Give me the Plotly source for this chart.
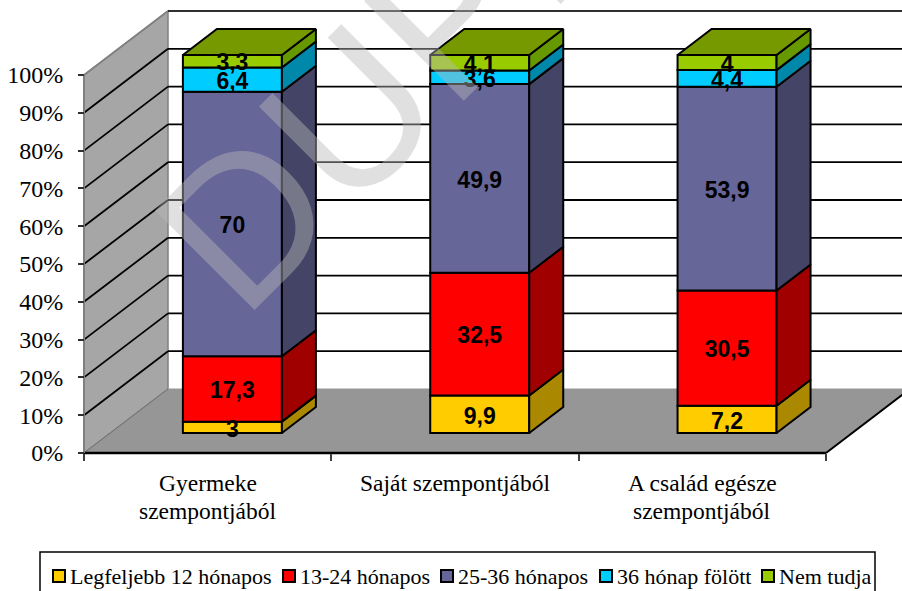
import plotly.graph_objects as go

cat_line1 = ["Gyermeke", "Saját szempontjából", "A család egésze"]
cat_line2 = ["szempontjából", "", "szempontjából"]
series = ["Legfeljebb 12 hónapos", "13-24 hónapos", "25-36 hónapos", "36 hónap fölött", "Nem tudja"]
v_12 = [3, 9.9, 7.2]
v_24 = [17.3, 32.5, 30.5]
v_36 = [70, 49.9, 53.9]
v_over = [6.4, 3.6, 4.4]
v_nem = [3.3, 4.1, 4]
labels_12 = ["3", "9,9", "7,2"]
labels_24 = ["17,3", "32,5", "30,5"]
labels_36 = ["70", "49,9", "53,9"]
labels_over = ["6,4", "3,6", "4,4"]
labels_nem = ["3,3", "4,1", "4"]
front = ["#FFCC00", "#FF0000", "#666699", "#00CCFF", "#99CC00"]
side = ["#AA8800", "#A00000", "#444466", "#0088AA", "#669900"]
top_col = "#779900"
y_ticks = list(range(0, 101, 10))
legend_swatch_px = [53, 283, 441, 600, 762]

W, H = 902, 591
PX_X, PX_Y = 247.33, 3.78
X0, Y0 = 84, 453
xr = [-X0 / PX_X, (W - X0) / PX_X]
yr = [(Y0 - H) / PX_Y, Y0 / PX_Y]
WALL_DX, WALL_DY = 84 / PX_X, 64 / PX_Y
BAR_DX, BAR_DY = 34 / PX_X, 26 / PX_Y
BAR_W = 99 / PX_X
BAR_BASE = 20 / PX_Y
LABEL_SHIFT = 3.5 / PX_Y
bar_x = [0.6, 1.6, 2.6]

vals = [v_12, v_24, v_36, v_over, v_nem]
labs = [labels_12, labels_24, labels_36, labels_over, labels_nem]

fig = go.Figure()
cum = [BAR_BASE] * 3
seg = []
for name, v, c in zip(series, vals, front):
    fig.add_trace(go.Bar(x=bar_x, y=v, base=list(cum), width=BAR_W, name=name, showlegend=False,
                         marker=dict(color=c, line=dict(color="black", width=2)),
                         hoverinfo="skip"))
    seg.append((list(cum), [a + b for a, b in zip(cum, v)]))
    cum = seg[-1][1]

# depth faces of the bars
for (lo, hi), c in zip(seg, side):
    xs, ys = [], []
    for x, a, b in zip(bar_x, lo, hi):
        r = x + BAR_W / 2
        xs += [r, r + BAR_DX, r + BAR_DX, r, r, None]
        ys += [a, a + BAR_DY, b + BAR_DY, b, a, None]
    fig.add_trace(go.Scatter(x=xs, y=ys, mode="lines", fill="toself", fillcolor=c,
                             line=dict(color="black", width=2), showlegend=False, hoverinfo="skip"))
xs, ys = [], []
for x, b in zip(bar_x, seg[-1][1]):
    l, r = x - BAR_W / 2, x + BAR_W / 2
    xs += [l, l + BAR_DX, r + BAR_DX, r, l, None]
    ys += [b, b + BAR_DY, b + BAR_DY, b, b, None]
fig.add_trace(go.Scatter(x=xs, y=ys, mode="lines", fill="toself", fillcolor=top_col,
                         line=dict(color="black", width=2), showlegend=False, hoverinfo="skip"))

# value labels
for (lo, hi), t in zip(seg, labs):
    fig.add_trace(go.Scatter(x=bar_x, y=[(a + b) / 2 - LABEL_SHIFT for a, b in zip(lo, hi)], text=t, mode="text",
                             textposition="middle center",
                             textfont=dict(family="Liberation Sans", size=23, color="black",
                                           weight="bold"),
                             showlegend=False, hoverinfo="skip"))

# category labels, one line at a time for the original's tighter leading
for i, (a, b) in enumerate(zip(cat_line1, cat_line2)):
    for txt, yp in ((a, 483), (b, 511)):
        if txt:
            fig.add_annotation(text=txt, xref="x", yref="y", x=i + 0.5, y=(Y0 - yp) / PX_Y, showarrow=False,
                               xanchor="center", yanchor="middle",
                               font=dict(family="Liberation Serif", size=23.5, color="black"))

# walls, floor, gridlines
shapes = []
def poly(pts, fill, line=None, w=1):
    path = "M " + " L ".join(f"{x},{y}" for x, y in pts) + " Z"
    shapes.append(dict(type="path", path=path, xref="x", yref="y", layer="below", fillcolor=fill,
                       line=dict(color=line or fill, width=w)))
def seg_line(x0, y0, x1, y1, c="black", w=2):
    shapes.append(dict(type="line", x0=x0, y0=y0, x1=x1, y1=y1, xref="x", yref="y", layer="below",
                       line=dict(color=c, width=w)))

poly([(0, 0), (WALL_DX, WALL_DY), (WALL_DX, 100 + WALL_DY), (0, 100)], "#A6A6A6", "#808080", 1.5)
for v in y_ticks[1:]:
    c = "#303030" if v == 100 else "black"
    seg_line(0, v, WALL_DX, v + WALL_DY, "#808080" if v == 100 else "black", 1.8)
    seg_line(WALL_DX, v + WALL_DY, 3 + WALL_DX, v + WALL_DY, c, 1.8)
poly([(0, 0), (WALL_DX, WALL_DY), (3 + WALL_DX, WALL_DY), (3, 0)], "#969696", "#969696", 1)
seg_line(0, 0, WALL_DX, WALL_DY, "#707070", 1)
seg_line(0, 0, 3, 0, "black", 2.5)
seg_line(3, 0, 3 + WALL_DX, WALL_DY, "black", 2)
seg_line(0, 0, 0, 100, "#808080", 2)

# legend box
px = lambda p: p / W
py = lambda p: (H - p) / H
shapes.append(dict(type="rect", xref="paper", yref="paper", x0=px(40), x1=px(875), y0=py(600), y1=py(552),
                   fillcolor="white", line=dict(color="black", width=1.5), layer="above"))
for x, c, name in zip(legend_swatch_px, front, series):
    shapes.append(dict(type="rect", xref="paper", yref="paper", x0=px(x), x1=px(x + 12), y0=py(582), y1=py(570),
                       fillcolor=c, line=dict(color="black", width=2), layer="above"))
    fig.add_annotation(text=name, xref="paper", yref="paper", x=px(x + 15), y=py(576), xanchor="left",
                       yanchor="middle", showarrow=False,
                       font=dict(family="Liberation Serif", size=22, color="black"))

fig.add_annotation(text="DUPLUM", xref="paper", yref="paper", x=498 / W, y=1 + 35 / H,
                   xanchor="center", yanchor="middle", textangle=-45, showarrow=False,
                   font=dict(family="Liberation Sans", size=205, color="rgba(184,184,184,0.44)"))

fig.update_layout(
    width=W, height=H, autosize=False, margin=dict(l=0, r=0, t=0, b=0),
    paper_bgcolor="white", plot_bgcolor="white", barmode="overlay", shapes=shapes, showlegend=False,
    font=dict(family="Liberation Serif", size=22, color="black"),
    xaxis=dict(range=xr, domain=[0, 1], anchor="free", position=(H - Y0) / H, showgrid=False, zeroline=False,
               showline=False, tickmode="array", tickvals=[0, 1, 2, 3], showticklabels=False,
               ticks="outside", ticklen=7, tickcolor="#404040", tickwidth=1.5),
    yaxis=dict(range=yr, domain=[0, 1], anchor="free", position=X0 / W, showgrid=False, zeroline=False,
               showline=False, tickmode="array", tickvals=y_ticks, ticktext=[f"{v}%" for v in y_ticks],
               ticks="outside", ticklen=6, tickcolor="#303030", tickwidth=1.5, ticklabelstandoff=10,
               tickfont=dict(family="Liberation Serif", size=24)),
)
fig.write_html("out.html", config=dict(displayModeBar=False),
               post_script="document.body.style.margin='0';document.documentElement.style.overflow='hidden';")
